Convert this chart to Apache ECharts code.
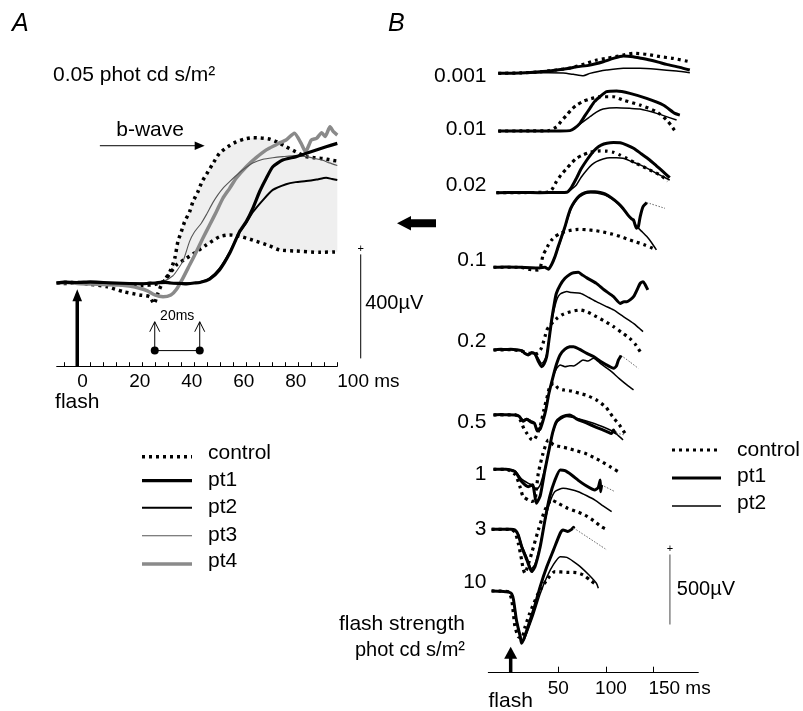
<!DOCTYPE html>
<html>
<head>
<meta charset="utf-8">
<script src="https://cdn.jsdelivr.net/npm/echarts@6/dist/echarts.min.js"></script>
<style>
  html, body { margin: 0; padding: 0; background: #fff; }
  #chart { width: 803px; height: 711px; }
</style>
</head>
<body>
<div id="chart"></div>
<script>
// ---------- Panel A: responses to a 0.05 phot cd s/m² flash, points are [ms, µV] ----------
const aControlUpper = [[-7.9,0],[-4,3],[0,0],[5,-3],[10,-5],[15,-5],[20,-8],[25,-10],[30,-5],[33,5],[35.6,43],[37.5,95],[38.7,159],[40,197],[41.3,236],[43.2,274],[44.5,313],[46.4,351],[48,390],[50.3,428],[52.5,465],[54.7,499],[58,525],[61.1,543],[64,553],[67.5,559],[70.5,558],[73.9,554],[77,542],[80.3,524],[84,505],[88,486],[91,482],[94.4,479],[97,474],[100,469]];
const aControlLower = [[-7.9,0],[-4,-2],[0,2],[5,-5],[11.3,-14],[17.6,-33],[24,-46],[27.9,-53],[29.5,-80],[31,-40],[32.5,-5],[34.3,18],[38.1,69],[42,95],[45.8,120],[49.6,146],[54.7,178],[58.6,185],[62.4,180],[67.5,165],[73.9,143],[77.8,127],[84.2,123],[93.1,118],[100,120]];
const aPt1 = [[-7.9,0],[-5,3],[0,2],[5,4],[10,2],[15,0],[20,-2],[25,-3],[30,0],[33,3],[36,0],[40,-2],[42,-3],[45,0],[47.1,2],[50.9,15],[54.7,50],[58.6,114],[62.4,197],[65,236],[67.5,287],[70.1,351],[72.7,403],[75.2,447],[79,473],[84.2,486],[89.3,503],[95.7,524],[100,537]];
const aPt2 = [[-7.9,0],[-5,2],[0,0],[5,3],[10,1],[15,-1],[20,0],[25,-2],[30,-1],[35,0],[40,-1],[44,0],[47.1,3],[50.9,18],[54.7,55],[58.6,118],[62.4,195],[65,232],[67.5,272],[71.4,319],[75.2,358],[80.3,380],[84,388],[88,392],[92,398],[95.7,405],[98,400],[100,396]];
const aPt3 = [[-7.9,2],[-4,4],[0,1],[5,3],[10,0],[15,-2],[20,-3],[25,-4],[28,5],[30,-2],[33,5],[36.8,28],[38.5,50],[40.7,85],[43.2,160],[45,195],[47.7,230],[49.6,262],[52.2,310],[54,338],[56,364],[58.6,390],[62.4,425],[65,445],[67.5,462],[71.4,476],[75.2,482],[79,486],[84.2,490],[88,486],[91,480],[94.4,472],[97,462],[100,452]];
const aPt4 = [[-7.9,0],[-4,2],[0,-2],[5,-4],[10,-6],[16.4,-8],[20,-12],[24,-20],[27,-30],[29.8,-46],[33,-53],[36,-46],[38.1,-25],[40.7,20],[43.2,69],[45.8,120],[48.3,172],[50.9,223],[53.5,274],[56,326],[58.6,364],[61.1,403],[65,447],[68.8,482],[72.7,512],[76.5,532],[78,540],[80.3,550],[83.5,576],[86.1,537],[87.8,505],[90,550],[92,556],[94,578],[95.3,563],[97.2,601],[98.5,582],[100,569]];
const aTicks = [-5,0,5,10,15,20,25,30,35,40,45,50,55,60,65,70,75,80,85,90,95,100];
const aTickLabels = [0,20,40,60,80,100];
// onset markers (ms) spanning the "20ms" delay
const aOnsets = [29.8, 47.1];

// ---------- Panel B: intensity series, one row per flash strength, points are [ms, µV] ----------
const flashStrengths = ['0.001','0.01','0.02','0.1','0.2','0.5','1','3','10'];
const bControl = [
  [[-13,0],[10,3],[30.7,11],[48.3,24],[60,35],[69,50],[79.7,71],[90.2,95],[100.7,107],[118.2,131],[128.6,143],[142.7,136],[156.7,119],[170.6,107],[188.1,83]],
  [[-13,0],[20,1],[40,3],[48.3,31],[53,70],[58.8,114],[64,155],[69.3,186],[76,212],[83.2,229],[93.7,245],[107.7,245],[118.2,221],[135.7,186],[153.2,138],[163.7,79],[169,35],[174.2,-17]],
  [[-15,0],[20,1],[38,3],[43,19],[48,79],[53,128],[59,174],[64,212],[69,245],[76,270],[83,288],[94,298],[101,296],[108,288],[115,268],[122,245],[130,215],[139,186],[148,155],[157,126],[165,83]],
  [[-18,0],[10,0],[20,-15],[28,-20],[31,-5],[34,88],[37,125],[39.5,159],[43,195],[46.5,219],[52,242],[57,255],[64,265],[71,271],[80,268],[88.5,262],[97,252],[106,238],[115,220],[123,200],[132,180],[141,159],[147,142],[153,124]],
  [[-18,0],[0,2],[10,-5],[15,-15],[20,-25],[25,-30],[29,-20],[32,10],[34,48],[36,95],[38,143],[41,175],[45,202],[49,228],[53.5,250],[60,268],[67,280],[73,286],[81,270],[90,238],[99,205],[108,167],[116,128],[125,83],[131,40],[136,-12]],
  [[-18,0],[5,0],[10,-36],[14,-100],[17,-131],[21,-170],[24,-180],[27,-150],[31,-80],[35,40],[38,120],[41,200],[45,226],[50,190],[56,178],[64,170],[72,155],[80,140],[90,107],[100,55],[107,-12],[114,-70],[120,-131]],
  [[-18,0],[-5,0],[5,-40],[10,-130],[13,-195],[18.5,-219],[22,-230],[25.5,-219],[29,-29],[34,114],[39.5,209],[45,174],[52,162],[60,150],[69,132],[78,114],[87,85],[95.5,55],[104,20],[113,-17]],
  [[-20,0],[0,0],[4.5,-20],[8,-100],[11.5,-219],[13,-279],[15,-314],[18,-260],[22,-171],[29,-5],[36,138],[43,209],[50,185],[60,150],[69,128],[78,102],[87,62],[95.5,17],[102,-5]],
  [[-20,0],[-10,-2],[-2.5,-5],[1,-60],[4.5,-255],[8,-326],[11.5,-338],[15,-260],[20,-160],[29,-17],[38,79],[46.5,138],[59,133],[69,131],[76,115],[83,79],[90,43]]
];
const bPt1 = [
  [[-13,0],[10,3],[30.7,11],[48.3,24],[60,35],[69.3,47],[83.2,59],[97.2,83],[107.7,107],[118.2,124],[128.6,119],[137,108],[146.2,95],[155,80],[163.7,64],[177.6,43],[188.1,24]],
  [[-13,0],[10,1],[30,0],[50,1],[62.2,3],[67,20],[72.7,55],[78,110],[83.2,162],[88,210],[93.7,245],[100.7,281],[111.2,286],[125.2,269],[142.7,233],[160.1,186],[172.4,126],[177.6,114]],
  [[-15,0],[10,1],[30,0],[50,1],[59,3],[64,40],[69,102],[74,170],[80,233],[85,280],[90,317],[95,340],[101,353],[108,358],[115,357],[122,340],[129,317],[137,278],[146,233],[153,192],[160,150],[167,107]],
  [[-18,0],[-5,2],[10,0],[20,-3],[30,-5],[36,0],[39.5,-14],[43,20],[46.5,76],[50,150],[53.5,219],[57,290],[60,361],[63,420],[67,469],[72,510],[78,533],[84,540],[88.5,540],[94,535],[99,524],[106,495],[113,457],[118,420],[123,374],[127,345],[129,338],[132,279],[134,290],[136,362],[139,433],[143,462]],
  [[-18,0],[-14,4],[-10,5],[-6,3],[0,5],[8,0],[11.5,-5],[15,-25],[18.5,-36],[22,-20],[25.5,-29],[29,-80],[32.5,-119],[35,-100],[37.8,-48],[40,60],[43,214],[46,340],[48,405],[52,465],[57,512],[62,540],[66,552],[71,555],[74.5,540],[80,515],[90,476],[98,430],[108,381],[115,333],[119,345],[122,345],[129,381],[136,476],[139,488],[141,470],[144,429]],
  [[-18,0],[-10,3],[-5,2],[5,0],[9,-10],[13,-45],[17,-30],[21,-50],[25,-60],[28,-115],[31,-100],[34,-40],[37,40],[40,150],[44,260],[48,360],[52,430],[57,470],[62,487],[66,488],[72,470],[80,440],[87,417],[95,380],[104,345],[108,333],[111,350],[113,390],[116,425]],
  [[-18,0],[-5,0],[4.5,-17],[11.5,-88],[18.5,-124],[23,-110],[27,-243],[31,-190],[36,-5],[41,162],[44,260],[48,340],[53,372],[58,385],[62,388],[66,375],[69,360],[80,329],[90,300],[101,269],[106,255],[108,280],[109.5,262],[111,258]],
  [[-20,0],[0,0],[4.5,-5],[8,-40],[11.5,-124],[17,-219],[22,-302],[25.5,-267],[31,-124],[36,67],[41,233],[46.5,352],[52,424],[57,419],[64,388],[71,350],[78,317],[88.5,281],[92,300],[94,352],[94.5,269],[95.5,317]],
  [[-20,0],[-10,-2],[-5,-5],[-2,-8],[1,-20],[3,-64],[6,-207],[10,-326],[11.5,-374],[14,-340],[17,-279],[24,-136],[31,31],[38,174],[45,293],[52,412],[55,436],[60,425],[64,440],[66,455],[66.5,448]]
];
const bPt2 = [
  [[-13,0],[20,3],[40,5],[55,2],[65.7,-7],[76.2,-17],[83.2,0],[92,14],[100.7,24],[118.2,36],[135.7,36],[153.2,29],[174.2,16],[188.1,4]],
  [[-13,0],[30,0],[50,1],[62.2,3],[67,18],[72.7,50],[83.2,102],[90,135],[97,157],[111.2,166],[125,162],[135.7,157],[153.2,126],[174.2,79]],
  [[-15,0],[30,0],[50,1],[59,3],[64,25],[69,55],[74,110],[80,162],[85,198],[90,221],[97,240],[104,250],[111,250],[118,245],[127,222],[136,198],[145,168],[153,138],[160,114],[167,90]],
  [[-18,0],[10,0],[30,-3],[36,0],[39.5,-10],[43,18],[46.5,70],[50,140],[53.5,210],[57,282],[60,350],[63,410],[67,460],[72,500],[78,525],[84,532],[90,530],[99,515],[106,490],[113,452],[118,415],[123,372],[129,330],[132,295],[137,260],[143,219],[148,175],[153,124]],
  [[-18,0],[0,3],[8,0],[12,-5],[15,-20],[19,-30],[22,-15],[26,-25],[29,-60],[32.5,-95],[35,-80],[37.8,-30],[40,60],[43,200],[46,300],[49,370],[52,400],[56,412],[59,417],[64,410],[73,405],[82,375],[90,345],[99,315],[108,286],[118,240],[129,190],[135,155],[139,131]],
  [[-18,0],[5,0],[9,-10],[13,-35],[17,-25],[21,-40],[25,-55],[28,-100],[31,-85],[34,-30],[37,40],[40,150],[44,260],[48,330],[52,357],[57,345],[62,352],[66,350],[71,370],[76,393],[81,385],[87,405],[94,369],[104,320],[114,260],[122,215],[129,179]],
  [[-18,0],[-5,0],[4.5,-12],[11.5,-70],[18.5,-100],[23,-115],[27,-147],[31,-110],[36,10],[41,165],[44,255],[48,330],[53,360],[59,377],[69,365],[87,329],[98,300],[108,269],[113,240],[118,210]],
  [[-20,0],[0,0],[4.5,-5],[8,-35],[11.5,-110],[17,-200],[22,-280],[25.5,-250],[31,-110],[36,60],[41,190],[46.5,270],[55,293],[63,285],[71,269],[80,240],[88.5,209],[97,168],[106,126]],
  [[-20,0],[-5,-5],[1,-20],[3,-60],[6,-200],[10,-320],[11.5,-365],[14,-350],[17,-300],[24,-170],[31,-20],[38,100],[45,190],[52,245],[59,240],[66,210],[73,174],[82,115],[90,55],[92,19]]
];
// truncated remainder of the pt1 recordings
const bPt1Tail = [
  [], [], [],
  [[143,462],[162,421]],
  [],
  [[116,425],[125,380],[134,333]],
  [[111,258],[120,245]],
  [[95.5,317],[109.5,269]],
  [[66.5,448],[101,293]]
];
const bTicks = [0,50,100,150];
const bTickLabels = [50,100,150];

// ---------- layout ----------
const FONT = '"Liberation Sans", Arial, Helvetica, sans-serif';
// baseline of each stacked row on panel B's µV axis
const rowOffsets = [4281, 3869, 3429, 2896, 2305, 1841, 1453, 1024, 584];
// small vertical nudges (px) of the row labels relative to their baseline
const rowLabelNudge = [2.5, -1.8, -7.7, -6.6, -8.7, 7.3, 4.7, -0.3, -8.7];

const styleA = {
  control: { color: '#000', width: 3.5, type: [3, 4] },
  pt1: { color: '#000', width: 3.2 },
  pt2: { color: '#000', width: 2 },
  pt3: { color: '#555', width: 1.1 },
  pt4: { color: '#8a8a8a', width: 3.5 }
};
const styleB = {
  control: { color: '#000', width: 3.2, type: [3, 4] },
  pt1: { color: '#000', width: 3 },
  pt2: { color: '#000', width: 1.5 },
  tail: { color: '#444', width: 0.8, type: [1.5, 1.5] }
};

function lineSeries(name, data, st, axis, z) {
  return {
    type: 'line', name, xAxisIndex: axis, yAxisIndex: axis, data,
    symbol: 'none', showSymbol: false, smooth: 0.2, silent: true, animation: false,
    z: z || 2,
    lineStyle: { color: st.color, width: st.width, type: st.type || 'solid', cap: 'butt', join: 'round' }
  };
}

const chart = echarts.init(document.getElementById('chart'), null, { renderer: 'canvas' });

const series = [];
// shaded control range between the two dotted control traces
const bandUpper = aControlUpper.filter(p => p[0] >= 33);
const bandLower = aControlLower.filter(p => p[0] >= 32.5);
series.push({
  type: 'custom', name: 'control range', xAxisIndex: 0, yAxisIndex: 0, silent: true, z: 1,
  animation: false, clip: true, data: [[0, 0]],
  renderItem: (params, api) => {
    const pts = bandUpper.map(p => api.coord(p)).concat(bandLower.slice().reverse().map(p => api.coord(p)));
    return { type: 'polygon', shape: { points: pts }, style: { fill: '#efefef' } };
  }
});
series.push(lineSeries('control', aControlUpper, styleA.control, 0));
series.push(lineSeries('control', aControlLower, styleA.control, 0));
series.push(lineSeries('pt4', aPt4, styleA.pt4, 0, 3));
series.push(lineSeries('pt3', aPt3, styleA.pt3, 0, 4));
series.push(lineSeries('pt2', aPt2, styleA.pt2, 0, 5));
series.push(lineSeries('pt1', aPt1, styleA.pt1, 0, 6));

flashStrengths.forEach((s, i) => {
  const off = rowOffsets[i];
  const shift = d => d.map(([t, v]) => [t, v + off]);
  series.push(lineSeries('control ' + s, shift(bControl[i]), styleB.control, 1, 3));
  series.push(lineSeries('pt2 ' + s, shift(bPt2[i]), styleB.pt2, 1, 4));
  series.push(lineSeries('pt1 ' + s, shift(bPt1[i]), styleB.pt1, 1, 5));
  if (bPt1Tail[i].length) series.push(lineSeries('pt1 rest ' + s, shift(bPt1Tail[i]), styleB.tail, 1, 4));
});

chart.setOption({
  backgroundColor: '#fff',
  animation: false,
  textStyle: { fontFamily: FONT },
  grid: [
    { left: 56.7, top: 121.8, width: 280.6, height: 244.4 },
    { left: 488.3, top: 30.1, width: 210, height: 642.6 }
  ],
  xAxis: [
    {
      gridIndex: 0, type: 'value', min: -7.9, max: 100,
      axisLine: { onZero: false, lineStyle: { color: '#000', width: 1 } },
      axisTick: { inside: true, length: 4, customValues: aTicks, lineStyle: { color: '#000', width: 1 } },
      axisLabel: {
        customValues: aTickLabels, align: 'left', margin: 6,
        fontSize: 19, color: '#000', fontFamily: FONT,
        formatter: v => (v === 100 ? '100 ms' : String(v))
      },
      splitLine: { show: false }
    },
    {
      gridIndex: 1, type: 'value', min: -23.5, max: 197,
      axisLine: { onZero: false, lineStyle: { color: '#000', width: 1 } },
      axisTick: { inside: true, length: 6, customValues: bTicks, lineStyle: { color: '#000', width: 1 } },
      axisLabel: {
        customValues: bTickLabels, margin: 7, fontSize: 19, color: '#000', fontFamily: FONT,
        formatter: v => (v === 150 ? '{s|150 ms}' : v === 100 ? '{h|100}' : '{n|' + v + '}'),
        rich: {
          n: { fontSize: 19, fontFamily: FONT, color: '#000' },
          h: { fontSize: 19, fontFamily: FONT, color: '#000', padding: [0, 0, 0, 10] },
          s: { fontSize: 19, fontFamily: FONT, color: '#000', padding: [0, 0, 0, 52] }
        }
      },
      splitLine: { show: false }
    }
  ],
  yAxis: [
    { gridIndex: 0, type: 'value', min: -320, max: 620, show: false },
    { gridIndex: 1, type: 'value', min: 0, max: 4590, show: false }
  ],
  series
});

// ---------- annotations positioned through the axes ----------
const pA = (x, y) => chart.convertToPixel({ xAxisIndex: 0, yAxisIndex: 0 }, [x, y]);
const pB = (x, y) => chart.convertToPixel({ xAxisIndex: 1, yAxisIndex: 1 }, [x, y]);

function txt(x, y, text, size, align, opts) {
  const o = opts || {};
  return {
    type: 'text', x, y, silent: true, z: 10,
    style: {
      text, font: (o.italic ? 'italic ' : '') + size + 'px ' + FONT, fill: o.fill || '#000',
      textAlign: align || 'left', textVerticalAlign: 'middle',
      align: align || 'left', verticalAlign: 'middle'
    }
  };
}
function seg(x1, y1, x2, y2, width, color, dash) {
  return {
    type: 'line', silent: true, z: 10,
    shape: { x1, y1, x2, y2 },
    style: { stroke: color || '#000', lineWidth: width || 1, lineDash: dash || null, lineCap: 'butt' }
  };
}
function poly(points, fill) {
  return { type: 'polygon', silent: true, z: 10, shape: { points }, style: { fill: fill || '#000' } };
}
// vertical arrow with a filled head, tip above the base
function upArrow(base, tip, width, headLen, halfW) {
  return [
    seg(base[0], base[1], tip[0], tip[1] + headLen - 1, width),
    poly([[tip[0], tip[1]], [tip[0] - halfW, tip[1] + headLen], [tip[0] + halfW, tip[1] + headLen]])
  ];
}

const g = [];
// panel letters and title
g.push(txt(12, 24, 'A', 25, 'left', { italic: true }));
g.push(txt(388, 24, 'B', 25, 'left', { italic: true }));
g.push(txt(53, 75, '0.05 phot cd s/m²', 21, 'left'));

// b-wave arrow
{
  const s = pA(8.7, 528), e = pA(49, 528);
  g.push(seg(s[0], s[1], e[0] - 8, e[1], 1));
  g.push(poly([[e[0], e[1]], [e[0] - 10, e[1] - 4.2], [e[0] - 10, e[1] + 4.2]]));
  const t = pA(28, 588);
  g.push(txt(t[0], t[1], 'b-wave', 21, 'center'));
}
// flash arrow on panel A
g.push(...upArrow(pA(0, -320), pA(0, -24), 3.5, 12, 4.8));
g.push(txt(pA(0, 0)[0], 402, 'flash', 21, 'center'));

// onset markers and the 20 ms delay between them
{
  const d1 = pA(aOnsets[0], -260), d2 = pA(aOnsets[1], -260);
  g.push(seg(d1[0], d1[1], d2[0], d2[1], 1));
  [d1, d2].forEach(d => {
    const tip = [d[0], pA(0, -149)[1]];
    g.push(seg(d[0], d[1], tip[0], tip[1], 1));
    g.push({ type: 'polyline', silent: true, z: 10,
      shape: { points: [[tip[0] - 5, tip[1] + 10], [tip[0], tip[1]], [tip[0] + 5, tip[1] + 10]] },
      style: { stroke: '#000', lineWidth: 1, fill: null } });
    g.push({ type: 'circle', silent: true, z: 11, shape: { cx: d[0], cy: d[1], r: 4 }, style: { fill: '#000' } });
  });
  const t = pA((aOnsets[0] + aOnsets[1]) / 2, -127);
  g.push(txt(t[0], t[1], '20ms', 14, 'center'));
}
// 400 µV scale bar
{
  const top = pA(109, 110), bot = pA(109, -290);
  g.push(seg(top[0], top[1], bot[0], bot[1], 1));
  const plus = pA(109, 131);
  g.push(txt(plus[0], plus[1], '+', 11, 'center'));
  const lab = pA(110.7, -77);
  g.push(txt(lab[0], lab[1], '400µV', 20, 'left'));
}
// legend of panel A
{
  const items = [
    ['control', styleA.control, 456.7, 453],
    ['pt1', styleA.pt1, 480.7, 480],
    ['pt2', styleA.pt2, 507.7, 507],
    ['pt3', styleA.pt3, 535.7, 535],
    ['pt4', styleA.pt4, 564, 561]
  ];
  items.forEach(([label, st, ly, ty]) => {
    g.push(seg(142, ly, 192, ly, st.width, st.color, Array.isArray(st.type) ? st.type : null));
    g.push(txt(208, ty, label, 21, 'left'));
  });
}

// arrow between the panels
g.push(poly([[397, 223.3], [411, 216], [411, 219.3], [436, 219.3], [436, 227.3], [411, 227.3], [411, 230.6]]));

// row labels of panel B
flashStrengths.forEach((s, i) => {
  const y = pB(0, rowOffsets[i])[1] + rowLabelNudge[i];
  g.push(txt(486.5, y, s, 21, 'right'));
});
// flash arrow on panel B
g.push(...upArrow(pB(0, 0), pB(0, 186), 3.5, 12, 6.5));
g.push(txt(pB(0, 0)[0], 701, 'flash', 21, 'center'));
g.push(txt(465, 624, 'flash strength', 21, 'right'));
g.push(txt(465, 650, 'phot cd s/m²', 20, 'right'));

// 500 µV scale bar
{
  const top = pB(167.2, 845), bot = pB(167.2, 345);
  g.push(seg(top[0], top[1], bot[0], bot[1], 1.2, '#666'));
  const plus = pB(167.2, 884);
  g.push(txt(plus[0], plus[1], '+', 11, 'center'));
  const lab = pB(174.5, 591);
  g.push(txt(lab[0], lab[1], '500µV', 20, 'left'));
}
// legend of panel B
{
  const items = [
    ['control', styleB.control, 450, 450],
    ['pt1', styleB.pt1, 478, 476],
    ['pt2', styleB.pt2, 506, 503]
  ];
  items.forEach(([label, st, ly, ty]) => {
    g.push(seg(672, ly, 721, ly, st.width, st.color, Array.isArray(st.type) ? st.type : null));
    g.push(txt(737, ty, label, 21, 'left'));
  });
}

chart.setOption({ graphic: { elements: g } });
</script>
</body>
</html>
